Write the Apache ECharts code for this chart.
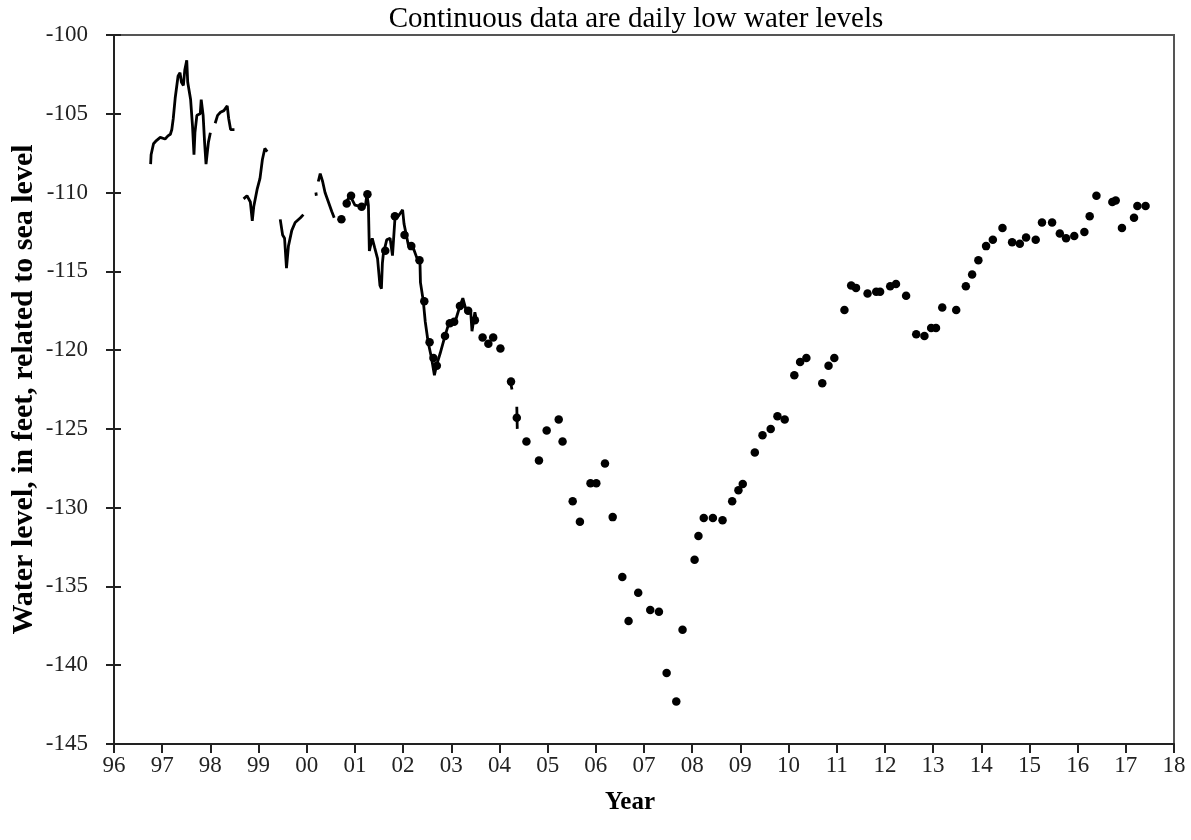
<!DOCTYPE html>
<html>
<head>
<meta charset="utf-8">
<script src="https://cdn.jsdelivr.net/npm/echarts@6/dist/echarts.min.js"></script>
<style>
html,body{margin:0;padding:0;background:#fff;}
#chart{width:1191px;height:840px;}
</style>
</head>
<body>
<div id="chart"></div>
<script>
// ---- Data (decimal year, water level ft) ----
const tickLabels = ['96','97','98','99','00','01','02','03','04','05','06','07','08','09','10','11','12','13','14','15','16','17','18'];

// Continuous daily low water levels (segments separated by data gaps)
const segA1 = [[1996.76,-108.2],[1996.77,-107.6],[1996.82,-106.9],[1996.88,-106.7],[1996.96,-106.5],[1997.06,-106.6],[1997.12,-106.4],[1997.17,-106.3],[1997.20,-106.0],[1997.23,-105.3],[1997.27,-104.0],[1997.30,-103.3],[1997.33,-102.6],[1997.37,-102.4],[1997.40,-103.0],[1997.44,-103.2],[1997.47,-102.2],[1997.51,-101.6],[1997.53,-103.0],[1997.59,-104.1],[1997.63,-105.8],[1997.66,-107.6],[1997.68,-106.2],[1997.72,-105.1],[1997.79,-105.0],[1997.81,-104.1],[1997.85,-105.1],[1997.88,-106.8],[1997.91,-108.2],[1997.96,-106.8],[1998.00,-106.2]];
const segA2 = [[1998.10,-105.6],[1998.15,-105.1],[1998.21,-104.9],[1998.28,-104.8],[1998.35,-104.5],[1998.38,-105.3],[1998.42,-106.0],[1998.50,-106.0]];
const segB = [[1998.69,-110.4],[1998.76,-110.2],[1998.83,-110.6],[1998.87,-111.8],[1998.90,-110.9],[1998.97,-109.8],[1999.03,-109.1],[1999.08,-107.9],[1999.13,-107.2],[1999.18,-107.4]];
const segC = [[1999.45,-111.7],[1999.50,-112.7],[1999.54,-112.9],[1999.58,-114.8],[1999.62,-113.4],[1999.69,-112.4],[1999.76,-111.9],[1999.87,-111.6],[1999.93,-111.4]];
const segD0 = [[2000.19,-110.0],[2000.20,-110.2]];
const segD = [[2000.24,-109.3],[2000.28,-108.8],[2000.33,-109.3],[2000.38,-110.0],[2000.45,-110.6],[2000.52,-111.2],[2000.57,-111.6]];
const segE = [[2000.80,-110.7],[2000.90,-110.2],[2001.00,-110.8],[2001.14,-110.9],[2001.22,-110.8],[2001.25,-110.1],[2001.28,-110.8],[2001.30,-113.7],[2001.36,-112.9],[2001.41,-113.5],[2001.47,-114.2],[2001.52,-115.9],[2001.55,-116.1],[2001.57,-114.5],[2001.59,-113.9],[2001.66,-113.0],[2001.73,-112.9],[2001.78,-114.0],[2001.83,-111.7],[2001.90,-111.5],[2001.99,-111.1],[2002.02,-112.0],[2002.11,-113.35],[2002.21,-113.5],[2002.28,-114.1],[2002.35,-114.4],[2002.36,-115.7],[2002.42,-116.9],[2002.46,-118.2],[2002.52,-119.5],[2002.59,-120.5],[2002.65,-121.6],[2002.70,-120.9],[2002.77,-120.2],[2002.87,-119.1],[2002.94,-118.4],[2003.08,-118.2],[2003.18,-117.2],[2003.24,-116.7],[2003.32,-117.6],[2003.40,-117.4],[2003.43,-118.8],[2003.49,-117.6],[2003.53,-118.2]];
const segF = [[2004.22,-121.9],[2004.26,-122.5]];
const segG = [[2004.36,-123.6],[2004.37,-125.0]];

// Periodic measurements (dots)
const dotPoints = [[2000.72,-111.7],[2000.83,-110.7],[2000.92,-110.2],[2001.14,-110.9],[2001.26,-110.1],[2001.63,-113.7],[2001.83,-111.5],[2002.03,-112.7],[2002.17,-113.4],[2002.34,-114.3],[2002.44,-116.9],[2002.55,-119.5],[2002.63,-120.5],[2002.70,-121.0],[2002.87,-119.1],[2002.97,-118.3],[2003.06,-118.2],[2003.18,-117.2],[2003.35,-117.5],[2003.49,-118.1],[2003.65,-119.2],[2003.77,-119.6],[2003.87,-119.2],[2004.02,-119.9],[2004.24,-122.0],[2004.36,-124.3],[2004.56,-125.8],[2004.82,-127.0],[2004.98,-125.1],[2005.23,-124.4],[2005.31,-125.8],[2005.52,-129.6],[2005.67,-130.9],[2005.89,-128.45],[2006.01,-128.45],[2006.19,-127.2],[2006.35,-130.6],[2006.55,-134.4],[2006.68,-137.2],[2006.88,-135.4],[2007.13,-136.5],[2007.31,-136.6],[2007.47,-140.5],[2007.67,-142.3],[2007.80,-137.75],[2008.05,-133.3],[2008.13,-131.8],[2008.24,-130.65],[2008.43,-130.65],[2008.63,-130.8],[2008.83,-129.6],[2008.96,-128.9],[2009.05,-128.5],[2009.30,-126.5],[2009.46,-125.4],[2009.63,-125.0],[2009.77,-124.2],[2009.92,-124.4],[2010.12,-121.6],[2010.24,-120.75],[2010.37,-120.5],[2010.70,-122.1],[2010.83,-121.0],[2010.95,-120.5],[2011.16,-117.45],[2011.30,-115.9],[2011.40,-116.05],[2011.64,-116.4],[2011.82,-116.3],[2011.90,-116.3],[2012.11,-115.95],[2012.23,-115.8],[2012.44,-116.55],[2012.65,-119.0],[2012.82,-119.1],[2012.96,-118.6],[2013.06,-118.6],[2013.19,-117.3],[2013.48,-117.45],[2013.68,-115.95],[2013.81,-115.2],[2013.94,-114.3],[2014.10,-113.4],[2014.24,-113.0],[2014.44,-112.25],[2014.64,-113.15],[2014.80,-113.25],[2014.93,-112.85],[2015.13,-113.0],[2015.26,-111.9],[2015.47,-111.9],[2015.63,-112.6],[2015.76,-112.9],[2015.93,-112.75],[2016.14,-112.5],[2016.25,-111.5],[2016.39,-110.2],[2016.72,-110.6],[2016.79,-110.5],[2016.92,-112.25],[2017.17,-111.6],[2017.24,-110.85],[2017.41,-110.85]];

const titleText = 'Continuous data are daily low water levels';
const xAxisTitle = 'Year';
const yAxisTitle = 'Water level, in feet, related to sea level';

// ---- Build ----
const segments = [segA1, segA2, segB, segC, segD0, segD, segE, segF, segG];
const lineData = [];
segments.forEach((s, i) => {
  if (i > 0) lineData.push([s[0][0], '-']);
  s.forEach(p => lineData.push(p));
});

const serif = '"Liberation Serif", "Times New Roman", serif';
const chart = echarts.init(document.getElementById('chart'), null, {renderer: 'canvas'});
chart.setOption({
  animation: false,
  backgroundColor: '#fff',
  title: {
    text: titleText,
    left: 631, top: 0, textAlign: 'center',
    textStyle: {fontFamily: serif, fontWeight: 'normal', fontSize: 29, color: '#000'}
  },
  grid: {left: 114, right: 17, top: 35, bottom: 96, show: true, borderColor: '#555', borderWidth: 2,
    containLabel: false, outerBoundsMode: 'none'},
  xAxis: {
    type: 'value', min: 1996, max: 2018, interval: 1,
    name: xAxisTitle, nameLocation: 'middle', nameGap: 46,
    nameTextStyle: {fontFamily: serif, fontWeight: 'bold', fontSize: 25, color: '#000', padding: [0, 28, 0, 0]},
    axisLine: {lineStyle: {color: '#222', width: 2}},
    axisTick: {length: 9, lineStyle: {color: '#222', width: 2}},
    splitLine: {show: false},
    axisLabel: {fontFamily: serif, fontSize: 23, color: '#222', margin: 10,
      formatter: v => tickLabels[Math.round(v - 1996)]}
  },
  yAxis: [{
    type: 'value', min: -145, max: -100, interval: 5,
    name: yAxisTitle, nameLocation: 'middle', nameRotate: 90, nameGap: 75, nameMoveOverlap: false,
    nameTextStyle: {fontFamily: serif, fontWeight: 'bold', fontSize: 30, color: '#000'},
    axisLine: {lineStyle: {color: '#222', width: 2}},
    axisTick: {length: 8, lineStyle: {color: '#222', width: 2}},
    splitLine: {show: false},
    axisLabel: {fontFamily: serif, fontSize: 23, color: '#222', margin: 26}
  }, {
    type: 'value', min: -145, max: -100, interval: 5, position: 'left', offset: 0,
    axisLine: {show: false},
    axisTick: {show: true, inside: true, length: 7, lineStyle: {color: '#222', width: 2}},
    axisLabel: {show: false}, splitLine: {show: false}
  }],
  series: [{
    type: 'line', name: 'Daily low', data: lineData, showSymbol: false, connectNulls: false,
    lineStyle: {color: '#000', width: 2.8}, itemStyle: {color: '#000'}, silent: true
  }, {
    type: 'scatter', name: 'Measurements', data: dotPoints, symbol: 'circle', symbolSize: 8.5,
    itemStyle: {color: '#000', opacity: 1}, silent: true
  }]
});
</script>
</body>
</html>
